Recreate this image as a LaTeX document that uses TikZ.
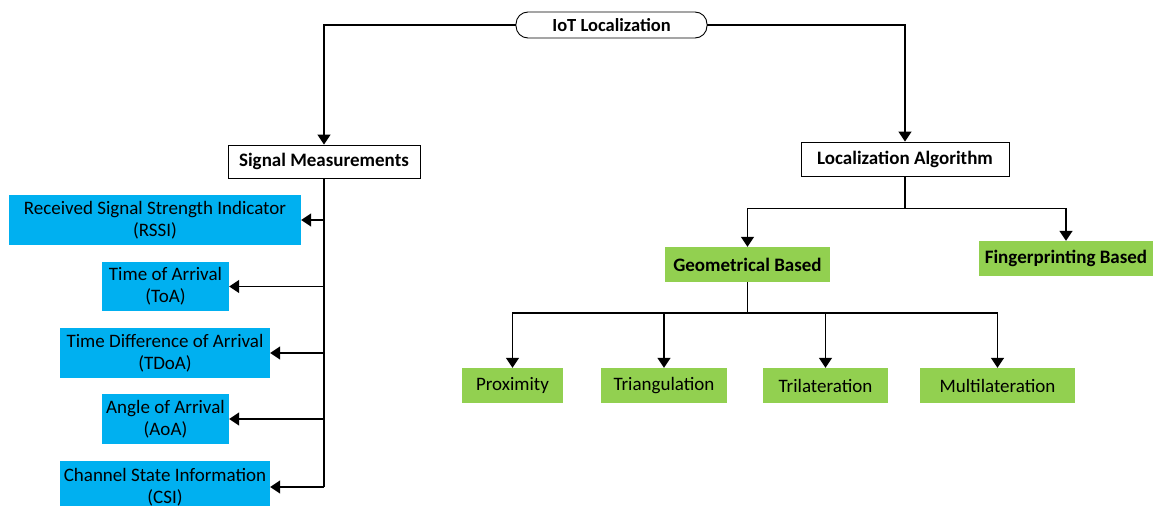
\documentclass[tikz,border=0pt]{standalone}
\usepackage{fontspec}
\setmainfont{Carlito}
\usetikzlibrary{arrows.meta}
\definecolor{skyblue}{HTML}{00B0F0}
\definecolor{leafgreen}{HTML}{92D050}
\begin{document}
\begin{tikzpicture}[x=1pt,y=-1pt,
  arr/.style={-{Triangle[width=13pt,length=10pt]}},
  wire/.style={line width=1.6pt},
  root/.style={draw,line width=0.9pt,rounded corners=12pt,inner sep=0pt,font=\fontsize{18.5}{20}\selectfont\bfseries},
  head/.style={draw,line width=0.9pt,inner sep=0pt,fill=white,font=\fontsize{19}{22}\selectfont\bfseries},
  metric/.style={fill=skyblue,inner sep=0pt,align=center,font=\fontsize{19}{22}\selectfont},
  algo/.style={fill=leafgreen,inner sep=0pt,font=\fontsize{19}{22}\selectfont\bfseries},
  leaf/.style={fill=leafgreen,inner sep=0pt,font=\fontsize{19}{22}\selectfont}]
\useasboundingbox (0,0) rectangle (1154,506);
\begin{scope}
\clip (0,0) rectangle (1154,506);
% top level
\node[root,minimum width=191pt,minimum height=26pt] (iot) at (611.5,25) {IoT Localization};
\node[head,minimum width=192pt,minimum height=33pt] (sig) at (324,161.5) {Signal Measurements};
\node[head,minimum width=208pt,minimum height=34pt] (alg) at (905,159) {Localization Algorithm};
% signal measurement techniques
\node[metric,minimum width=292pt,minimum height=50pt] (rssi) at (155,220) {Received Signal Strength Indicator\\(RSSI)};
\node[metric,minimum width=127pt,minimum height=49pt] (toa) at (165.5,286.5) {Time of Arrival\\(ToA)};
\node[metric,minimum width=210pt,minimum height=50pt] (tdoa) at (165,353) {Time Difference of Arrival\\(TDoA)};
\node[metric,minimum width=127pt,minimum height=50pt] (aoa) at (165.5,419) {Angle of Arrival\\(AoA)};
\node[metric,minimum width=210pt,minimum height=52pt] (csi) at (165,487) {Channel State Information\\(CSI)};
% localization algorithms
\node[algo,minimum width=165pt,minimum height=35pt] (geo) at (747.5,264.5) {Geometrical Based};
\node[algo,minimum width=174pt,minimum height=35pt] (fing) at (1066,258.5) {Fingerprinting Based};
\node[leaf,minimum width=101pt,minimum height=35pt] (prox) at (512.5,385.5) {Proximity};
\node[leaf,minimum width=126pt,minimum height=35pt] (tri) at (664,385.5) {Triangulation};
\node[leaf,minimum width=125pt,minimum height=35pt] (tril) at (825.5,385.5) {Trilateration};
\node[leaf,minimum width=155pt,minimum height=35pt] (mult) at (997.5,385.5) {Multilateration};
% connectors
\draw[wire,arr] (iot.west) -| (sig.north);
\draw[wire,arr] (iot.east) -| (alg.north);
\draw[wire] (sig.south) -- (sig.south |- csi.east);
\foreach \t in {rssi,toa,tdoa,aoa,csi}
  \draw[wire,arr] (sig.south |- \t.east) -- (\t.east);
\draw[wire] (alg.south) -- ++(0,32) coordinate (ja);
\draw[wire,arr] (ja) -| (geo.north);
\draw[wire,arr] (ja) -| (fing.north);
\draw[wire] (geo.south) -- ++(0,31) coordinate (jg);
\foreach \t in {prox,tri,tril,mult}
  \draw[wire,arr] (jg) -| (\t.north);
\end{scope}
\end{tikzpicture}
\end{document}
